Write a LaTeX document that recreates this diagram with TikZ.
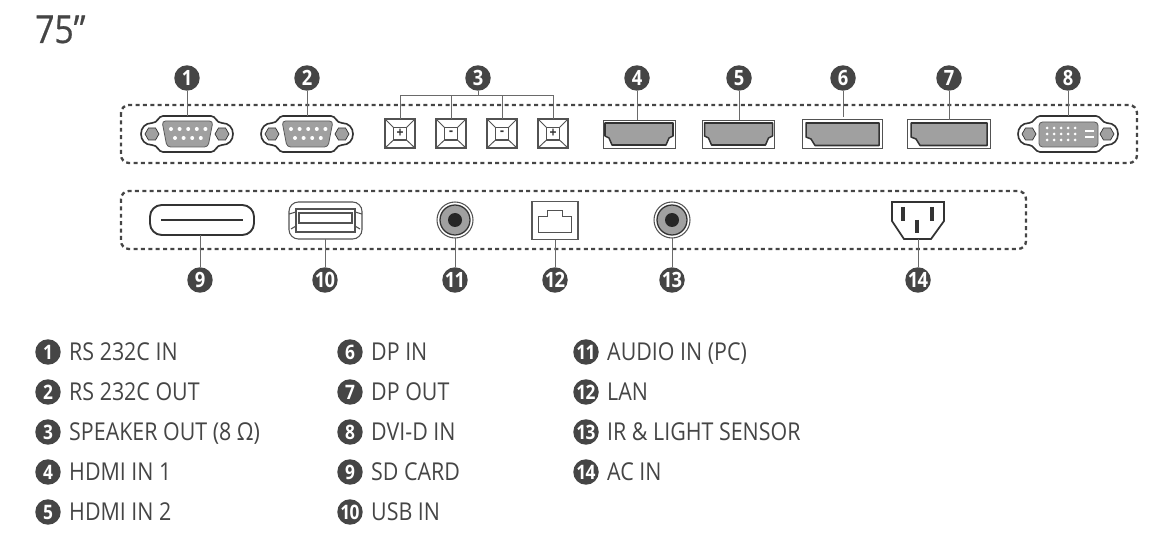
\documentclass[tikz,border=0pt]{standalone}
\usepackage{fontspec}
\setmainfont[FakeStretch=0.87]{Open Sans}
\definecolor{inkgray}{HTML}{454545}
\definecolor{pingray}{HTML}{A0A0A0}
\definecolor{portdark}{HTML}{333333}
\tikzset{
    badge/.style={circle, fill=inkgray, text=white, inner sep=0pt, minimum size=25.5*0.853pt, font=\fontsize{18}{18}\selectfont\bfseries},
    keybadge/.style={badge, font=\fontsize{17}{17}\selectfont\bfseries},
    lead/.style={draw=inkgray!80, line width=0.85pt},
    zone/.style={draw=inkgray, line width=2pt, dash pattern=on 3.4pt off 2.9pt, rounded corners=8*0.853pt},
    shell/.style={draw=portdark, line width=1.4pt, fill=white},
    grayface/.style={draw=portdark!80, line width=0.7pt, fill=pingray},
    hdmiface/.style={draw=portdark, line width=1.3pt, fill=pingray, line join=round},
    thinbox/.style={draw=portdark!85, line width=0.9pt, fill=white},
    legend/.style={anchor=base west, inner sep=0pt, text=inkgray, font=\fontsize{21}{21}\selectfont},
}
\newcommand{\hexnut}[1]{\draw[fill=pingray, draw=portdark, line width=0.6pt] (#1-7,0) -- (#1-3.5,-6) -- (#1+3.5,-6) -- (#1+7,0) -- (#1+3.5,6) -- (#1-3.5,6) -- cycle;}
\begin{document}
\begin{tikzpicture}[x=0.03cm, y=-0.03cm]
\useasboundingbox (0,0) rectangle (1159,542);

\node[anchor=base west, inner sep=0pt, text=inkgray, font=\fontsize{33}{33}\selectfont\addfontfeature{FakeBold=0.6}] (title) at (35,43) {75"};

% Dashed panels
\draw[zone] (121,105) rectangle (1137,163);
\draw[zone] (121,191) rectangle (1026,249);

% Sub-D connectors
\foreach \cx in {187,307}{
\begin{scope}[shift={(\cx,134)}]
    \draw[shell] (-24,-18) -- (24,-18) .. controls (29,-18) and (29,-11) .. (35,-11) .. controls (42,-11) and (46,-6) .. (46,0) .. controls (46,6) and (42,11) .. (35,11) .. controls (29,11) and (29,18) .. (24,18) -- (-24,18) .. controls (-29,18) and (-29,11) .. (-35,11) .. controls (-42,11) and (-46,6) .. (-46,0) .. controls (-46,-6) and (-42,-11) .. (-35,-11) .. controls (-29,-11) and (-29,-18) .. (-24,-18) -- cycle;
    \draw[grayface, rounded corners=3pt] (-25,-13) -- (26,-13) -- (21,13) -- (-20,13) -- cycle;
    \hexnut{-35}
    \hexnut{35}
    \foreach \i in {0,1,2,3,4}
        \fill[white] (-16+\i*8.6,-5) circle (2);
    \foreach \i in {0,1,2,3}
        \fill[white] (-12+\i*8.6,4) circle (2);
\end{scope}
}

% Speaker terminals
\foreach \cx/\sign in {400/+,451/-,502/-,553/+}{
    \draw[thinbox] (\cx-15,119) rectangle (\cx+15,148);
    \draw[thinbox] (\cx-6.5,127.5) rectangle (\cx+6.5,140);
    \draw[portdark!85, line width=0.8pt] (\cx-15,119) -- (\cx-6.5,127.5) (\cx+15,119) -- (\cx+6.5,127.5) (\cx-15,148) -- (\cx-6.5,140) (\cx+15,148) -- (\cx+6.5,140);
    \node[inner sep=0pt, text=portdark, font=\fontsize{12}{12}\selectfont\bfseries] (sign\cx) at (\cx,133) {\sign};
}

% HDMI
\foreach \cx in {639,738.5}{
    \draw[thinbox, line width=0.7pt] (\cx-36,120) rectangle (\cx+36,148);
    \draw[hdmiface] (\cx-34,123) -- (\cx+34,123) -- (\cx+34,136) -- (\cx+30,138) -- (\cx+27,145) -- (\cx-27,145) -- (\cx-30,138) -- (\cx-34,136) -- cycle;
}

% DP
\foreach \cx/\hw in {842/40,948.5/41.5}{
    \draw[thinbox, line width=0.7pt] (\cx-\hw,119.5) rectangle (\cx+\hw,148.5);
    \draw[hdmiface] (\cx-\hw+4,123) -- (\cx+\hw-3,123) -- (\cx+\hw-3,145.5) -- (\cx-\hw+13,145.5) -- (\cx-\hw+9,139) -- (\cx-\hw+4,137) -- cycle;
}

% DVI
\begin{scope}[shift={(1068,134)}]
    \draw[shell] (-28,-18) -- (28,-18) .. controls (33,-18) and (34,-11) .. (39,-11) .. controls (46,-11) and (50,-6) .. (50,0) .. controls (50,6) and (46,11) .. (39,11) .. controls (34,11) and (33,18) .. (28,18) -- (-28,18) .. controls (-33,18) and (-34,11) .. (-39,11) .. controls (-46,11) and (-50,6) .. (-50,0) .. controls (-50,-6) and (-46,-11) .. (-39,-11) .. controls (-34,-11) and (-33,-18) .. (-28,-18) -- cycle;
    \draw[grayface, rounded corners=3pt] (-29,-12) rectangle (30,13);
    \hexnut{-39}
    \hexnut{39}
    \foreach \i in {0,1,2,3,4}
        \foreach \j in {0,1,2}
            \fill[white] (-21+\i*7,-6+\j*6) circle (1.5);
    \fill[white] (17,-4) rectangle (26,-1.5);
    \fill[white] (17,2) rectangle (26,4.5);
\end{scope}

% SD card
\draw[shell, line width=1.6pt, rounded corners=10pt] (150,205) rectangle (254,235);
\draw[portdark, line width=1.1pt] (161,220) -- (243,220);

% USB
\draw[thinbox, rounded corners=8pt] (289,202) rectangle (362,239);
\draw[thinbox] (296,209) -- (355,209) -- (355,232) -- (296,232) -- cycle;
\draw[thinbox] (299,213) rectangle (352,223);
\draw[thinbox] (289,214) -- (296,212) (362,214) -- (355,212) (291,229) -- (296,226) (360,229) -- (355,226);

% Jacks
\foreach \cx in {455,672}{
    \draw[thinbox] (\cx,220) circle (18);
    \draw[portdark, line width=1.1pt, fill=pingray] (\cx,220) circle (15);
    \fill[black!85] (\cx,220) circle (7);
}

% LAN
\draw[inkgray!90, line width=1.7pt, fill=white] (531.5,201.5) rectangle (577.5,239.5);
\draw[thinbox, line width=0.7pt] (538,232) -- (538,216) -- (547,216) -- (547,210) -- (562,210) -- (562,216) -- (571,216) -- (571,232) -- cycle;

% AC socket
\draw[shell, line width=1.5pt] (892,202) -- (944,202) -- (944,221) -- (931,239) -- (904,239) -- (892,221) -- cycle;
\draw[portdark, line width=3pt] (903,207) -- (903,221) (932,207) -- (932,221) (917,220) -- (917,233);

% Badges above and below the panels
\foreach \n/\cx in {1/187,2/307,3/478,4/637,5/739,6/843,7/949,8/1068}
    \node[badge] (b\n) at (\cx,78) {\n};
\foreach \n/\cx/\t in {9/200/9,10/325/1\kern-0.6pt0,11/455/1\kern-0.6pt1,12/555/1\kern-0.6pt2,13/672/1\kern-0.6pt3,14/918/1\kern-0.6pt4}
    \node[badge] (b\n) at (\cx,280) {\t};

% Port ends of the leads
\foreach \n/\cx/\cy in {1/187/116,2/307/116,4/637/120,5/739/120,6/843/117,7/949/120,8/1068/116,9/200/235,10/325/239,11/455/238,12/555/240,13/672/238,14/918/239}
    \coordinate (p\n) at (\cx,\cy);
\foreach \n in {1,2,4,5,6,7,8,9,10,11,12,13,14}
    \draw[lead] (b\n) -- (p\n);

% Speaker bracket
\coordinate (j3) at (478,96);
\draw[lead] (b3) -- (j3);
\foreach \cx in {400,451,502,553}{
    \coordinate (t\cx) at (\cx,119);
    \draw[lead] (t\cx) |- (j3);
}

% Legend
\foreach \n/\t/\cx/\cy/\lab in {1/1/48/352/RS 232C IN,2/2/48/392/RS 232C OUT,3/3/48/432/SPEAKER OUT (8 Ω),4/4/48/472/HDMI IN 1,5/5/48/512/HDMI IN 2,
    6/6/350/352/DP IN,7/7/350/392/DP OUT,8/8/350/432/DVI-D IN,9/9/350/472/SD CARD,10/1\kern-0.6pt0/350/512/USB IN,
    11/1\kern-0.6pt1/586/352/AUDIO IN (PC),12/1\kern-0.6pt2/586/392/LAN,13/1\kern-0.6pt3/586/432/IR \& LIGHT SENSOR,14/1\kern-0.6pt4/586/472/AC IN}{
    \node[keybadge] (k\n) at (\cx,\cy) {\t};
    \node[legend] (l\n) at (\cx+21,\cy+8) {\lab};
}

\end{tikzpicture}
\end{document}
